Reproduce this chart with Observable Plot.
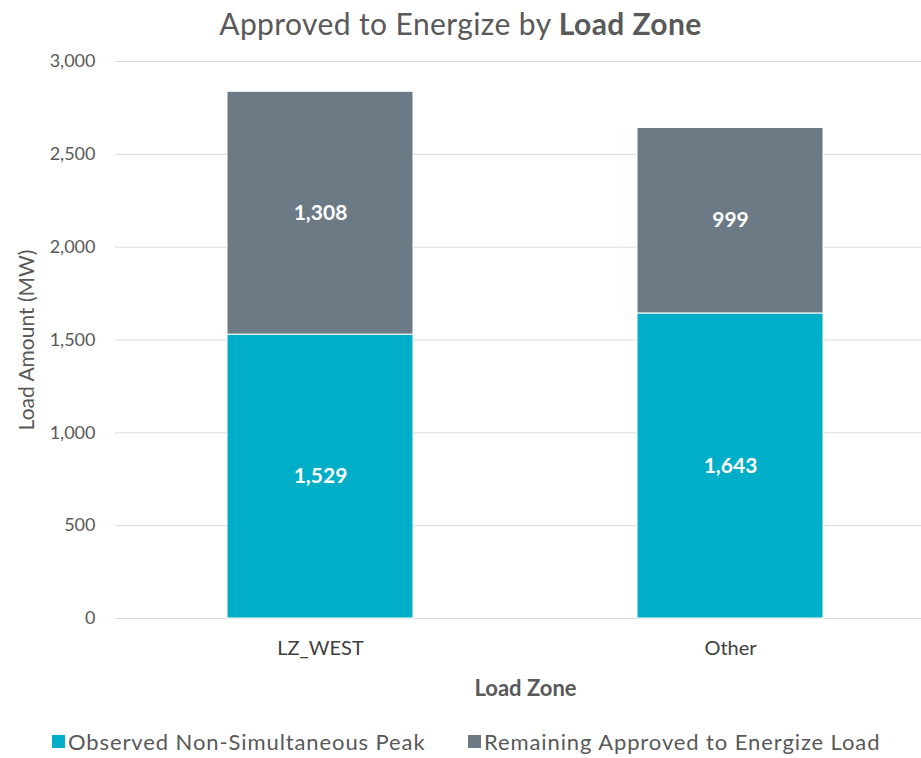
<!DOCTYPE html>
<html>
<head>
<meta charset="utf-8">
<script src="https://cdn.jsdelivr.net/npm/d3@7"></script>
<script src="https://cdn.jsdelivr.net/npm/@observablehq/plot@0.6"></script>
<style>
  body { margin: 0; background: #fff; font-family: Lato, "Open Sans", sans-serif; }
  #wrap { width: 921px; height: 758px; position: relative; }
  #title { height: 48px; line-height: 46px; text-align: center; font-size: 30px; letter-spacing: 0.4px; color: #595959; }
  #title b { font-weight: 700; }
  #legend { position: absolute; top: 728px; left: 0; width: 921px; font-size: 22px; letter-spacing: 0.9px; color: #595959; }
  .item { position: absolute; top: 0; display: flex; align-items: center; white-space: nowrap; }
  .sw { width: 13px; height: 13px; margin-right: 3px; display: inline-block; }
</style>
</head>
<body>
<div id="wrap">
  <div id="title">Approved to Energize by <b>Load Zone</b></div>
  <div id="chart"></div>
  <div id="legend"></div>
</div>
<script>
const zones = ["LZ_WEST", "Other"];
const seriesNames = ["Observed Non-Simultaneous Peak", "Remaining Approved to Energize Load"];
const observed = [1529, 1643];
const remaining = [1308, 999];
const colors = ["#00AEC7", "#6C7A85"];
const yTicks = [0, 500, 1000, 1500, 2000, 2500, 3000];

const rows = [];
zones.forEach((z, i) => {
  rows.push({zone: z, series: seriesNames[0], value: observed[i]});
  rows.push({zone: z, series: seriesNames[1], value: remaining[i]});
});

const fmt = d3.format(",");

const chart = Plot.plot({
  width: 921,
  height: 660,
  marginTop: 13,
  marginBottom: 90,
  marginLeft: 115,
  marginRight: 0,
  style: {fontFamily: "Lato, 'Open Sans', sans-serif", fontSize: "18px", color: "#595959", background: "transparent"},
  x: {domain: zones, paddingInner: 0.5463, paddingOuter: 0.2549, align: 0.531, label: null},
  y: {domain: [0, 3000], label: null},
  color: {domain: seriesNames, range: colors},
  marks: [
    Plot.ruleY(yTicks, {stroke: "#d9d9d9", strokeWidth: 1}),
    Plot.axisY({ticks: yTicks, tickFormat: fmt, tickSize: 0, tickPadding: 20, fontSize: 18, fill: "#595959",
      label: "Load Amount (MW)", labelAnchor: "center", labelOffset: 96, labelArrow: "none"}),
    Plot.axisX({tickSize: 0, tickPadding: 22, fontSize: 20, fill: "#404040", label: null}),
    Plot.barY(rows, Plot.stackY({x: "zone", y: "value", fill: "series", stroke: "#fff", strokeWidth: 1})),
    Plot.text(rows, Plot.stackY({x: "zone", y: "value", z: "series", text: d => fmt(d.value),
      fill: "#fff", fontWeight: "bold", fontSize: 21})),
    Plot.text(["Load Zone"], {frameAnchor: "bottom", dy: 77, dx: 7, fontWeight: "bold", fontSize: 22, fill: "#595959", text: d => d})
  ]
});
document.getElementById("chart").appendChild(chart);

chart.querySelectorAll("text").forEach(t => {
  if (t.textContent === "Load Amount (MW)") t.setAttribute("font-size", "21");
});

const legend = document.getElementById("legend");
const lx = [52, 468];
seriesNames.forEach((s, i) => {
  const it = document.createElement("div");
  it.className = "item";
  it.style.left = lx[i] + "px";
  it.innerHTML = `<span class="sw" style="background:${colors[i]}"></span><span>${s}</span>`;
  legend.appendChild(it);
});
</script>
</body>
</html>
